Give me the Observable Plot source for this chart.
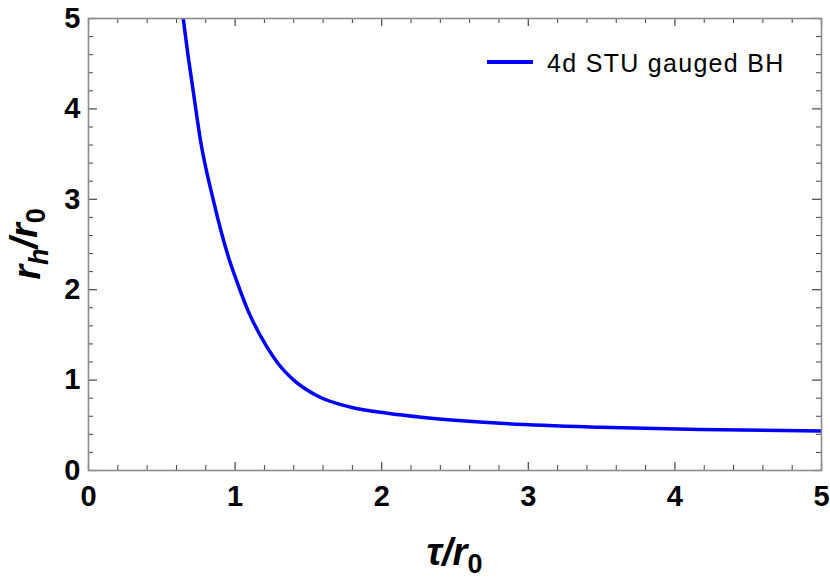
<!DOCTYPE html>
<html><head><meta charset="utf-8">
<script src="https://cdn.jsdelivr.net/npm/d3@7"></script>
<script src="https://cdn.jsdelivr.net/npm/@observablehq/plot@0.6"></script>
<style>body{margin:0;background:#fff;}</style>
</head><body><div id="chart"></div>
<script>
// data: tau/r0 vs r_h/r0
const tau = [0.646, 0.68, 0.714, 0.764, 0.853, 0.955, 1.01, 1.09, 1.22, 1.30, 1.40, 1.58, 1.79, 2.04, 2.27, 2.81, 3.49, 4.17, 5.0];
const rh  = [5.0, 4.58, 4.20, 3.65, 2.98, 2.36, 2.10, 1.76, 1.36, 1.17, 1.00, 0.81, 0.70, 0.633, 0.589, 0.523, 0.479, 0.453, 0.438];
const seriesName = "4d STU gauged BH";
const majorTicks = [0, 1, 2, 3, 4, 5];
const minorTicks = d3.range(0, 5.001, 0.2).filter(v => Math.abs(v - Math.round(v)) > 1e-6);

const data = tau.map((t, i) => ({tau: t, rh: rh[i]}));

const W = 830, H = 579, mL = 88, mR = 9, mT = 18, mB = 109;
const innerW = W - mL - mR, innerH = H - mT - mB;
const tickColor = "#444";
const font = "'Liberation Sans', Arial, sans-serif";

const chart = Plot.plot({
  width: W, height: H,
  marginLeft: mL, marginRight: mR, marginTop: mT, marginBottom: mB,
  x: {domain: [0, 5]},
  y: {domain: [0, 5]},
  style: {fontFamily: font, background: "#fff", color: "#000"},
  marks: [
    Plot.line(data, {x: "tau", y: "rh", stroke: "#0000ff", strokeWidth: 3.5, curve: "monotone-x", clip: true}),
    // ticks bottom
    Plot.tickX(majorTicks, {x: d => d, insetTop: innerH - 8, stroke: tickColor, strokeWidth: 1.2}),
    Plot.tickX(minorTicks, {x: d => d, insetTop: innerH - 5, stroke: tickColor, strokeWidth: 1}),
    // ticks top
    Plot.tickX(majorTicks, {x: d => d, insetBottom: innerH - 8, stroke: tickColor, strokeWidth: 1.2}),
    Plot.tickX(minorTicks, {x: d => d, insetBottom: innerH - 5, stroke: tickColor, strokeWidth: 1}),
    // ticks left
    Plot.tickY(majorTicks, {y: d => d, insetRight: innerW - 9, stroke: tickColor, strokeWidth: 1.2}),
    Plot.tickY(minorTicks, {y: d => d, insetRight: innerW - 5, stroke: tickColor, strokeWidth: 1}),
    // ticks right
    Plot.tickY(majorTicks, {y: d => d, insetLeft: innerW - 9, stroke: tickColor, strokeWidth: 1.2}),
    Plot.tickY(minorTicks, {y: d => d, insetLeft: innerW - 5, stroke: tickColor, strokeWidth: 1}),
    Plot.frame({stroke: "#8c8c8c", strokeWidth: 1.6}),
    Plot.axisX(majorTicks, {tickSize: 0, tickPadding: 15, fontSize: 29, fontWeight: "bold", label: null, fill: "#000", tickFormat: d => String(d)}),
    Plot.axisY(majorTicks, {tickSize: 0, tickPadding: 8, fontSize: 29, fontWeight: "bold", label: null, fill: "#000", tickFormat: d => String(d)})
  ]
});
document.getElementById("chart").appendChild(chart);

const svg = d3.select(chart);
// x axis label
const xl = svg.append("text")
  .attr("x", mL + innerW / 2).attr("y", 565)
  .attr("text-anchor", "middle")
  .attr("font-family", font).attr("font-size", 38).attr("font-weight", "bold").attr("font-style", "italic")
  .attr("fill", "#000");
xl.append("tspan").text("τ/r");
xl.append("tspan").attr("dy", "0.3em").attr("font-size", 27).attr("font-style", "normal").text("0");

// y axis label
const yl = svg.append("text")
  .attr("transform", `translate(40,${mT + innerH / 2}) rotate(-90)`)
  .attr("text-anchor", "middle")
  .attr("font-family", font).attr("font-size", 38).attr("font-weight", "bold").attr("font-style", "italic")
  .attr("fill", "#000");
yl.append("tspan").text("r");
yl.append("tspan").attr("dy", "0.3em").attr("font-size", 27).text("h");
yl.append("tspan").attr("dy", "-0.3em").text("/r");
yl.append("tspan").attr("dy", "0.3em").attr("font-size", 27).attr("font-style", "normal").text("0");

// legend
svg.append("line").attr("x1", 487).attr("x2", 533).attr("y1", 62).attr("y2", 62)
  .attr("stroke", "#0000ff").attr("stroke-width", 4);
svg.append("text").attr("x", 547).attr("y", 71.5)
  .attr("text-anchor", "start")
  .attr("font-family", font).attr("font-size", 25).attr("letter-spacing", 1.3).attr("fill", "#000")
  .text(seriesName);
</script>
</body></html>
